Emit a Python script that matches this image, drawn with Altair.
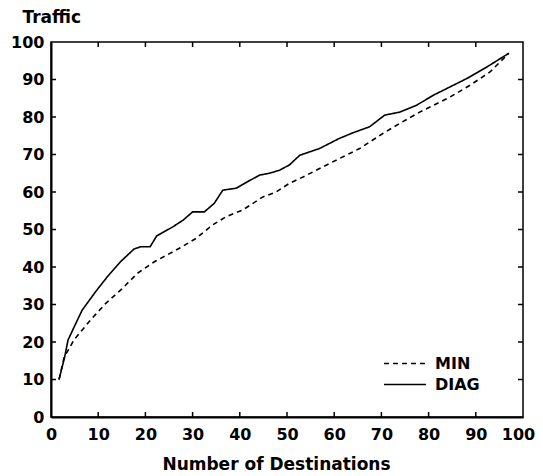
import altair as alt
import pandas as pd

# ---- data ----
x_diag = [1.7, 2.9, 3.6, 4.9, 6.6, 9.5, 12, 14.8, 17.6, 19, 21, 22.4, 25.8, 28, 30, 32.5,
          34.6, 36.4, 39.2, 42, 44.2, 46.3, 48.4, 50.5, 52.7, 56.9, 61.1, 64, 67.5, 70.7,
          73.9, 77.4, 81, 84.5, 88, 92.3, 97]
y_diag = [10, 16, 20.5, 24, 28.5, 33.5, 37.5, 41.5, 44.8, 45.4, 45.4, 48.3, 50.7, 52.5, 54.7, 54.7,
          57, 60.5, 61, 63, 64.5, 65, 65.8, 67.2, 69.8, 71.6, 74.3, 75.8, 77.4, 80.5,
          81.3, 83.1, 85.8, 88, 90.2, 93.3, 97]
x_min = [1.7, 2.8, 4.9, 8.4, 11.6, 14.8, 18.3, 21.9, 27.2, 30.7, 34.2, 37.1, 40.6, 44.9,
         47.7, 50.5, 53.4, 59, 65.4, 70.3, 73.9, 78.1, 84.5, 88.7, 93, 97]
y_min = [10, 16, 20.6, 25.9, 30.3, 33.9, 38.3, 41.4, 45, 47.6, 51.2, 53.4, 55.2, 58.7,
         60, 62.3, 64, 67.6, 71.6, 75.6, 78.3, 81.3, 85.3, 88.4, 92, 97]
series_names = ["MIN", "DIAG"]
tick_values = [0, 10, 20, 30, 40, 50, 60, 70, 80, 90, 100]
inner_ticks = [10, 20, 30, 40, 50, 60, 70, 80, 90]

df = pd.concat([
    pd.DataFrame({"x": x_min, "y": y_min, "series": "MIN"}),
    pd.DataFrame({"x": x_diag, "y": y_diag, "series": "DIAG"}),
])
ticks = pd.DataFrame({"t": inner_ticks})

W, H = 472, 375
FONT = "DejaVu Sans"

xscale = alt.Scale(domain=[0, 100], nice=False)
yscale = alt.Scale(domain=[0, 100], nice=False)

xaxis = alt.Axis(values=tick_values, title="Number of Destinations",
                 titleX=225, titleY=52, titleBaseline="alphabetic",
                 labelPadding=9, labelFlush=False, labelOverlap=False,
                 labelOffset=alt.ConditionalAxisNumber(
                     condition={"test": "datum.value === 100", "value": -5}, value=0))
yaxis = alt.Axis(values=tick_values, title="Traffic", titleAngle=0,
                 titleAlign="left", titleBaseline="alphabetic",
                 titleX=-29, titleY=-20, labelPadding=7, labelFlush=False,
                 labelOverlap=False)

lines = alt.Chart(df).mark_line(strokeWidth=1.6, color="black").encode(
    x=alt.X("x:Q", scale=xscale, axis=xaxis),
    y=alt.Y("y:Q", scale=yscale, axis=yaxis),
    strokeDash=alt.StrokeDash(
        "series:N",
        scale=alt.Scale(domain=series_names, range=[[5, 4], [1, 0]]),
        legend=alt.Legend(title=None, orient="none", legendX=332, legendY=311,
                          symbolType="stroke", symbolSize=1764, symbolStrokeWidth=1.6,
                          symbolStrokeColor="black", labelOffset=8, clipHeight=21,
                          rowPadding=0),
    ),
    detail="series:N",
    order="x:Q",
)

tb = alt.Chart(ticks).mark_rule(color="black", strokeWidth=1.5).encode(
    x=alt.X("t:Q", scale=xscale, axis=xaxis), y=alt.value(H), y2=alt.value(H - 5))
tt = alt.Chart(ticks).mark_rule(color="black", strokeWidth=1.5).encode(
    x=alt.X("t:Q", scale=xscale, axis=xaxis), y=alt.value(0), y2=alt.value(5))
tl = alt.Chart(ticks).mark_rule(color="black", strokeWidth=1.5).encode(
    y=alt.Y("t:Q", scale=yscale, axis=yaxis), x=alt.value(0), x2=alt.value(5))
tr = alt.Chart(ticks).mark_rule(color="black", strokeWidth=1.5).encode(
    y=alt.Y("t:Q", scale=yscale, axis=yaxis), x=alt.value(W), x2=alt.value(W - 5))

chart = alt.layer(lines, tb, tt, tl, tr).properties(
    width=W, height=H,
    autosize=alt.AutoSizeParams(type="none"),
    padding={"left": 43, "top": 34, "right": 12, "bottom": 56},
    background="white",
).configure_view(
    stroke="black", strokeWidth=1.5
).configure_axis(
    grid=False, ticks=False, tickSize=0, domainColor="black", domainWidth=2,
    labelFont=FONT, labelFontSize=16, labelFontWeight="bold", labelColor="black",
    titleFont=FONT, titleFontSize=17, titleFontWeight="bold", titleColor="black",
).configure_legend(
    labelFont=FONT, labelFontSize=16, labelFontWeight="bold", labelColor="black",
)

chart.save("out.html", embed_options={"renderer": "svg", "actions": False})
